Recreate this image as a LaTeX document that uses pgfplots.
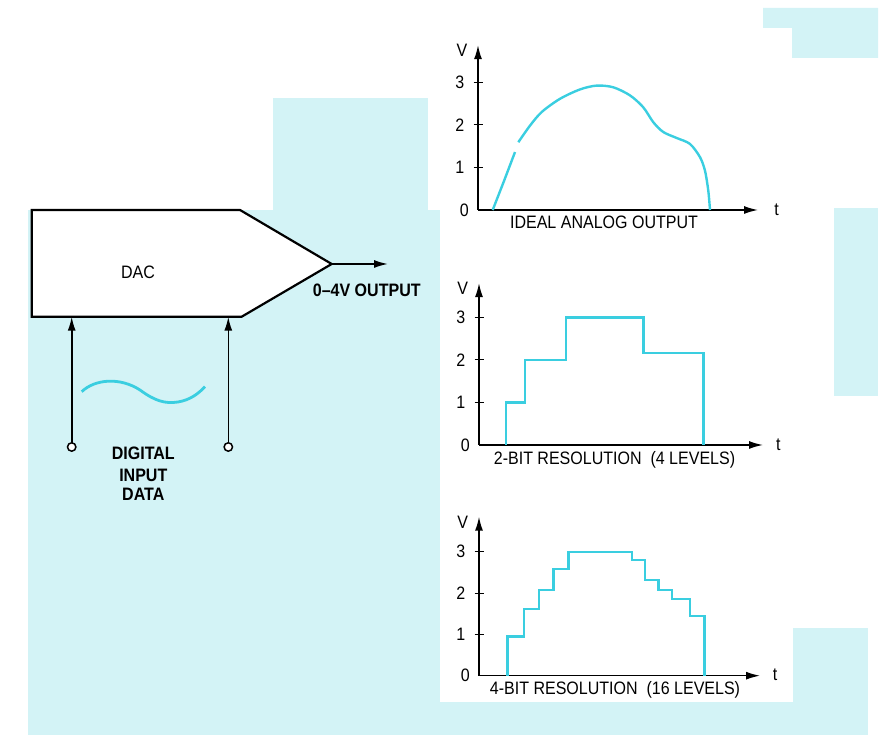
\documentclass[border=0pt]{standalone}
\usepackage{fontspec}
\setmainfont{Liberation Sans}[FakeStretch=0.89]
\usepackage{pgfplots}
\pgfplotsset{compat=1.18}
\usetikzlibrary{arrows.meta}
\definecolor{bgcyan}{RGB}{211,243,246}
\definecolor{wave}{RGB}{58,206,224}
\newcommand{\lbl}{\fontsize{18}{20}\selectfont}
\pgfplotsset{dacaxis/.style={
  axis lines=left,
  axis line style={line width=1.5pt, -{Latex[length=14pt,width=8pt]}},
  xmin=0, ymin=0,
  xtick=\empty, ytick={1,2,3},
  extra y ticks={0}, extra y tick style={major tick length=0pt},
  tick align=center, major tick length=9pt,
  tick style={line width=1pt, black},
  yticklabel style={font=\lbl, inner sep=0pt, xshift=-9pt},
  /pgf/number format/assume math mode=true,
  anchor=origin, clip=false,
}}
\begin{document}
\begin{tikzpicture}[x=1pt,y=1pt]
\useasboundingbox (0,0) rectangle (884,735);
% scanned background patches
\fill[bgcyan] (28,0) rectangle (440,525);
\fill[bgcyan] (273,525) rectangle (428,637);
\fill[bgcyan] (440,0) rectangle (868,33);
\fill[bgcyan] (793,0) rectangle (868,107);
\fill[bgcyan] (834,339) rectangle (878,527);
\fill[bgcyan] (763,727) -- (878,727) -- (878,677) -- (792,677) -- (792,707) -- (763,707) -- cycle;
% DAC block
\filldraw[fill=white, draw=black, line width=2.2pt, line join=miter]
  (31.7,525) -- (240,525) -- (331.7,471) -- (241.7,418.3) -- (31.7,418.3) -- cycle;
\draw[line width=1.6pt, -{Latex[length=14pt,width=8pt]}] (331.7,471) -- (388,471);
\draw[line width=1.6pt, -{Latex[length=14pt,width=8pt]}] (71.7,292) -- (71.7,418.3);
\draw[line width=1.6pt, -{Latex[length=14pt,width=8pt]}] (228.3,292) -- (228.3,418.3);
\draw[line width=1.5pt, fill=white] (71.7,288) circle (4.2);
\draw[line width=1.5pt, fill=white] (228.3,288) circle (4.2);
\draw[wave, line width=2.8pt] (81.7,343.3) .. controls (95,356) and (120,358) .. (140,345)
  .. controls (155,334) and (165,331) .. (178,333) .. controls (190,335) and (198,341) .. (205,348.3);
\node[font=\lbl, anchor=base] at (138,456.8) {DAC};
\node[font=\lbl\bfseries, anchor=base west, inner sep=0pt] at (312.7,438.5) {0--4V OUTPUT};
\node[font=\lbl\bfseries, anchor=base] at (143.3,275.5) {DIGITAL};
\node[font=\lbl\bfseries, anchor=base] at (143.3,253.5) {INPUT};
\node[font=\lbl\bfseries, anchor=base] at (143.3,234.5) {DATA};

% Plot 1: ideal analog output
\begin{axis}[dacaxis, at={(478pt,525pt)}, x=10pt, y=42.6pt, xmax=28, ymax=3.87]
\addplot[wave, line width=2.4pt] coordinates {(1.47,0) (2.6,0.68) (3.7,1.36)};
\addplot[wave, line width=2.4pt, smooth, tension=0.5] coordinates {
 (4.03,1.59) (5.2,1.98) (6.37,2.30) (8.2,2.61) (10.2,2.83) (11.87,2.92)
 (13.53,2.88) (15.2,2.69) (16.53,2.41) (17.53,2.06) (18.53,1.83) (19.87,1.69)
 (21.2,1.55) (22.2,1.24) (22.7,0.92) (23.03,0.45) (23.2,0)};
\end{axis}

% Plot 2: 2-bit
\begin{axis}[dacaxis, at={(479pt,290pt)}, x=10pt, y=42.5pt, xmax=28.4, ymax=3.81]
\addplot[wave, line width=2.4pt] coordinates {
 (2.7,0) (2.7,1) (4.6,1) (4.6,2) (8.7,2) (8.7,3) (16.43,3) (16.43,2.17)
 (22.43,2.17) (22.43,0)};
\end{axis}

% Plot 3: 4-bit
\begin{axis}[dacaxis, at={(479pt,59.3pt)}, x=10pt, y=41.3pt, xmax=28.1, ymax=3.85]
\addplot[wave, line width=2.4pt] coordinates {
 (2.83,0) (2.83,0.95) (4.5,0.95) (4.5,1.61) (5.97,1.61) (5.97,2.07) (7.43,2.07)
 (7.43,2.58) (8.93,2.58) (8.93,3.0) (15.27,3.0) (15.27,2.8) (16.6,2.8) (16.6,2.32)
 (17.93,2.32) (17.93,2.07) (19.27,2.07) (19.27,1.85) (21.1,1.85) (21.1,1.45)
 (22.53,1.45) (22.53,0)};
\end{axis}

\node[font=\lbl, anchor=base] at (462,678.5) {V};
\node[font=\lbl, anchor=base] at (462.7,440.2) {V};
\node[font=\lbl, anchor=base] at (462.7,206.8) {V};
\node[font=\lbl, anchor=base] at (776.7,519) {t};
\node[font=\lbl, anchor=base] at (778.3,284) {t};
\node[font=\lbl, anchor=base] at (775,54) {t};
\node[font=\lbl, anchor=base] at (604,506.5) {IDEAL ANALOG OUTPUT};
\node[font=\lbl, anchor=base] at (614.5,270.5) {2-BIT RESOLUTION\ \ (4 LEVELS)};
\node[font=\lbl, anchor=base] at (615,40.2) {4-BIT RESOLUTION\ \ (16 LEVELS)};
\end{tikzpicture}
\end{document}
